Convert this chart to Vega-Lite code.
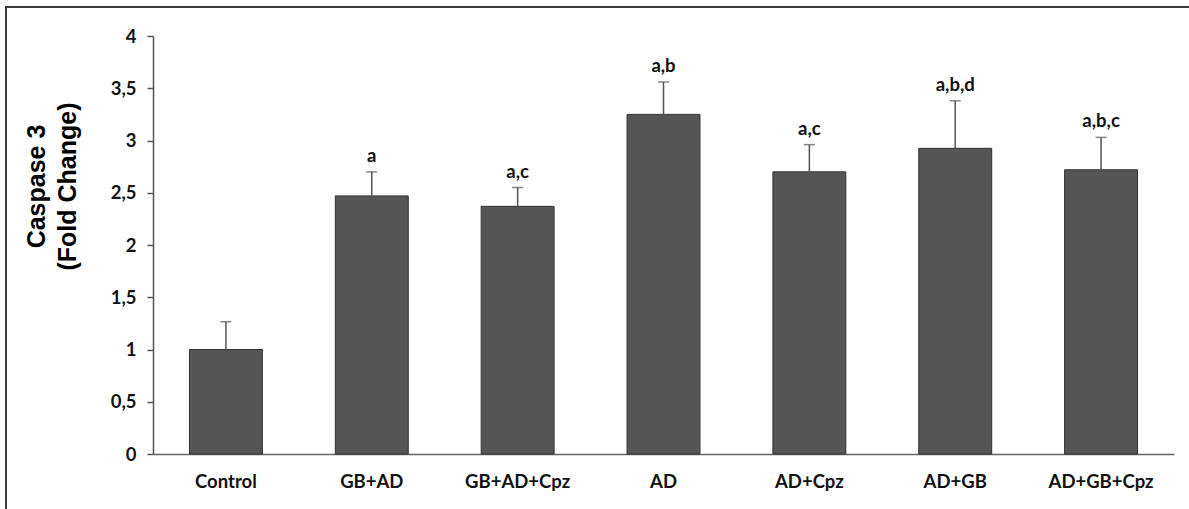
{
  "$schema": "https://vega.github.io/schema/vega-lite/v6.json",
  "autosize": "none",
  "padding": {"left": 6, "top": 7, "right": 0, "bottom": 0},
  "width": 1186,
  "height": 505,
  "background": "white",
  "config": {
    "view": {"stroke": "#3a3a3a", "strokeWidth": 2},
    "font": "Lato"
  },
  "data": {
    "values": [
      {"group": "Control", "value": 1.0, "upper": 1.266, "sig": ""},
      {"group": "GB+AD", "value": 2.47, "upper": 2.70, "sig": "a"},
      {"group": "GB+AD+Cpz", "value": 2.37, "upper": 2.55, "sig": "a,c"},
      {"group": "AD", "value": 3.25, "upper": 3.56, "sig": "a,b"},
      {"group": "AD+Cpz", "value": 2.70, "upper": 2.96, "sig": "a,c"},
      {"group": "AD+GB", "value": 2.925, "upper": 3.38, "sig": "a,b,d"},
      {"group": "AD+GB+Cpz", "value": 2.72, "upper": 3.03, "sig": "a,b,c"}
    ]
  },
  "encoding": {
    "x": {
      "field": "group",
      "type": "nominal",
      "sort": null,
      "scale": {"range": [147, 1168], "paddingInner": 0.5, "paddingOuter": 0.25},
      "axis": {
        "title": null,
        "orient": "bottom",
        "offset": -58,
        "labelAngle": 0,
        "ticks": false,
        "labelPadding": 18,
        "labelFont": "Lato",
        "labelFontWeight": "bold",
        "labelFontSize": 18.5,
        "labelColor": "#111",
        "domainColor": "#666",
        "domainWidth": 1.5,
        "grid": false
      }
    }
  },
  "layer": [
    {
      "mark": {"type": "bar", "color": "#555555", "stroke": "#333333", "strokeWidth": 1},
      "encoding": {
        "y": {
          "field": "value",
          "type": "quantitative",
          "scale": {"domain": [0, 4], "range": [447, 29], "nice": false},
          "axis": {
            "orient": "left",
            "offset": -147,
            "values": [0, 0.5, 1, 1.5, 2, 2.5, 3, 3.5, 4],
            "format": ".1~f",
            "labelExpr": "replace(datum.label, '.', ',')",
            "grid": false,
            "tickSize": 6,
            "tickColor": "#555",
            "tickWidth": 1.5,
            "domainColor": "#555",
            "domainWidth": 1.5,
            "labelFont": "Lato",
            "labelFontWeight": "bold",
            "labelFontSize": 18.5,
            "labelColor": "#111",
            "labelPadding": 11,
            "title": ["Caspase 3", "(Fold Change)"],
            "titleFont": "Liberation Sans",
            "titleFontSize": 25,
            "titleFontWeight": "bold",
            "titleColor": "#000",
            "titleLineHeight": 31,
            "titlePadding": 30,
            "titleY": 179
          }
        }
      }
    },
    {
      "mark": {"type": "rule", "color": "#555", "strokeWidth": 1.5},
      "encoding": {
        "y": {"field": "value", "type": "quantitative"},
        "y2": {"field": "upper"}
      }
    },
    {
      "mark": {"type": "tick", "color": "#555", "thickness": 1.5, "size": 11, "orient": "horizontal"},
      "encoding": {
        "y": {"field": "upper", "type": "quantitative"}
      }
    },
    {
      "mark": {"type": "text", "font": "Lato", "fontWeight": "bold", "fontSize": 18.5, "color": "#111", "baseline": "alphabetic", "dy": -10},
      "encoding": {
        "y": {"field": "upper", "type": "quantitative"},
        "text": {"field": "sig"}
      }
    }
  ]
}
